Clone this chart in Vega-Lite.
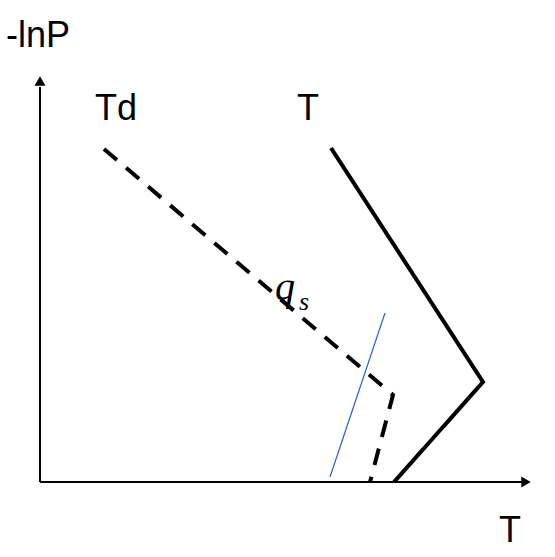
{
  "$schema": "https://vega.github.io/schema/vega-lite/v6.json",
  "width": 555,
  "height": 557,
  "autosize": {"type": "fit", "contains": "padding"},
  "padding": 0,
  "background": "white",
  "config": {"view": {"stroke": null}},
  "datasets": {
    "curves": [
      {"series": "T", "order": 1, "x": 331, "y": 409},
      {"series": "T", "order": 2, "x": 483, "y": 175},
      {"series": "T", "order": 3, "x": 394, "y": 75},
      {"series": "Td", "order": 1, "x": 104, "y": 408},
      {"series": "Td", "order": 2, "x": 393, "y": 162},
      {"series": "Td", "order": 3, "x": 370, "y": 75}
    ],
    "blue": [
      {"x": 330, "y": 80},
      {"x": 385, "y": 244}
    ],
    "axes": [
      {"axis": "y", "x": 40, "y": 75, "x2": 40, "y2": 470},
      {"axis": "x", "x": 40, "y": 75, "x2": 522, "y2": 75}
    ],
    "heads": [
      {"axis": "y", "x": 40, "y": 476, "shape": "triangle-up"},
      {"axis": "x", "x": 526, "y": 75, "shape": "triangle-right"}
    ],
    "labels": [
      {"label": "-lnP", "x": 6, "y": 510},
      {"label": "Td", "x": 95, "y": 437},
      {"label": "T", "x": 297, "y": 437},
      {"label": "T", "x": 499, "y": 15}
    ],
    "qlab": [{"label": "q", "x": 275, "y": 257}],
    "slab": [{"label": "s", "x": 299, "y": 247}]
  },
  "layer": [
    {
      "data": {"name": "axes"},
      "mark": {"type": "rule", "color": "black", "strokeWidth": 2},
      "encoding": {
        "x": {"field": "x", "type": "quantitative", "scale": {"domain": [0, 555], "nice": false, "zero": false}, "axis": null},
        "y": {"field": "y", "type": "quantitative", "scale": {"domain": [0, 557], "nice": false, "zero": false}, "axis": null},
        "x2": {"field": "x2"},
        "y2": {"field": "y2"}
      }
    },
    {
      "data": {"name": "heads"},
      "mark": {"type": "point", "filled": true, "color": "black", "size": 120, "opacity": 1},
      "encoding": {
        "x": {"field": "x", "type": "quantitative"},
        "y": {"field": "y", "type": "quantitative"},
        "shape": {"field": "shape", "type": "nominal", "scale": null, "legend": null}
      }
    },
    {
      "data": {"name": "curves"},
      "mark": {"type": "line", "color": "black", "strokeWidth": 4, "strokeCap": "butt", "strokeJoin": "miter"},
      "encoding": {
        "x": {"field": "x", "type": "quantitative"},
        "y": {"field": "y", "type": "quantitative"},
        "detail": {"field": "series"},
        "order": {"field": "order"},
        "strokeDash": {
          "field": "series", "type": "nominal",
          "scale": {"domain": ["T", "Td"], "range": [[1, 0], [17, 12]]},
          "legend": null
        }
      }
    },
    {
      "data": {"name": "blue"},
      "mark": {"type": "line", "color": "#2f5fc4", "strokeWidth": 1.2},
      "encoding": {
        "x": {"field": "x", "type": "quantitative"},
        "y": {"field": "y", "type": "quantitative"}
      }
    },
    {
      "data": {"name": "labels"},
      "mark": {"type": "text", "font": "Liberation Sans", "fontSize": 36, "align": "left", "baseline": "alphabetic", "color": "black"},
      "encoding": {
        "x": {"field": "x", "type": "quantitative"},
        "y": {"field": "y", "type": "quantitative"},
        "text": {"field": "label"}
      }
    },
    {
      "data": {"name": "qlab"},
      "mark": {"type": "text", "font": "Liberation Serif", "fontStyle": "italic", "fontSize": 40, "align": "left", "baseline": "alphabetic", "color": "black"},
      "encoding": {
        "x": {"field": "x", "type": "quantitative"},
        "y": {"field": "y", "type": "quantitative"},
        "text": {"field": "label"}
      }
    },
    {
      "data": {"name": "slab"},
      "mark": {"type": "text", "font": "Liberation Serif", "fontStyle": "italic", "fontSize": 26, "align": "left", "baseline": "alphabetic", "color": "black"},
      "encoding": {
        "x": {"field": "x", "type": "quantitative"},
        "y": {"field": "y", "type": "quantitative"},
        "text": {"field": "label"}
      }
    }
  ]
}
